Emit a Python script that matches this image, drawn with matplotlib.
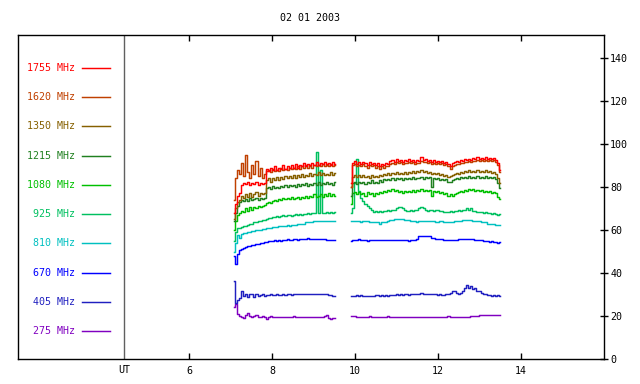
import numpy as np
import matplotlib
matplotlib.use("Agg")
import matplotlib.pyplot as plt

# ---------------------------
# DATA (flux vs UT hours, two observing segments)
# ---------------------------
title = "02 01 2003"
seg1_start, seg1_end = 7.07, 9.52
seg2_start, seg2_end = 9.90, 13.50

labels = ["1755 MHz", "1620 MHz", "1350 MHz", "1215 MHz", "1080 MHz",
          "925 MHz", "810 MHz", "670 MHz", "405 MHz", "275 MHz"]
colors = ["#ff0000", "#c04000", "#866000", "#208020", "#00c000",
          "#00c060", "#00c0c0", "#0000ff", "#2020c0", "#8000c0"]

f1755_a = [68, 72, 76, 77, 81, 82, 81.5, 82.5, 81, 82, 81.5, 82.5, 81, 82, 81.5, 82,
           88.5, 87.5, 89, 88, 89.5, 88, 89, 88.5, 90, 88.5, 89.5, 89, 90, 89, 90.5, 89,
           90, 89.5, 91, 89.5, 90.5, 90, 91, 90, 91.5, 90, 91, 90.5, 91.5, 90.5, 91, 90,
           91.5, 90.5]
f1755_b = [82, 91, 92, 90.5, 91.5, 90.5, 91.5, 91, 90, 91.5, 90.5, 91, 90, 91, 89.5, 90.5,
           90, 91, 90.5, 92, 92.5, 91.5, 93, 92, 92.5, 91.5, 92.5, 92, 93, 92, 92.5, 91.5,
           92.5, 92, 94, 92.5, 93, 92, 92.5, 91.5, 92.5, 91.5, 92, 91.5, 92, 91, 91.5, 90.5,
           89.5, 91, 91.5, 92, 91.5, 92.5, 92, 93, 92.5, 93, 92.5, 93.5, 93, 94, 93, 93.5,
           93, 94, 93, 93.5, 93, 93.5, 92.5, 91, 88]

f1620_a = [74, 84, 88, 86, 91, 85, 95, 87, 84, 90, 86, 92, 85, 89, 84, 86,
           87.5, 88, 87, 88.5, 87.5, 88, 87.5, 89, 88, 88.5, 88, 89, 88.5, 89, 88.5, 89.5,
           88.5, 89.5, 89, 90, 89, 89.5, 89, 90, 89.5, 90, 89.5, 90.5, 89.5, 90, 89.5, 90.5,
           89.5, 90]
f1620_b = [80, 90, 90.5, 89.5, 90, 89.5, 90.5, 89.5, 89, 90, 89.5, 90, 89, 89.5, 88.5, 89.5,
           89, 89.5, 89.5, 90.5, 91, 90.5, 91.5, 91, 91.5, 90.5, 91, 91, 91.5, 91, 91.5, 90.5,
           91, 91, 92, 91.5, 91.5, 91, 91.5, 90.5, 91, 90.5, 91, 90.5, 91, 90, 90.5, 89.5,
           88.5, 89.5, 90, 90.5, 90.5, 91, 91, 91.5, 91.5, 92, 91.5, 92, 92, 92.5, 92, 92.5,
           92, 92.5, 92, 92.5, 92, 92.5, 91.5, 90, 87]

f1350_a = [65, 70, 73, 74, 76, 75, 76.5, 75.5, 77, 75.5, 76.5, 77.5, 76, 77, 76.5, 77,
           83, 84, 82.5, 84, 83, 84.5, 83, 84.5, 83.5, 85, 84, 85, 84, 85.5, 84, 85.5,
           84.5, 86, 84.5, 85.5, 85, 86.5, 85, 86, 85.5, 87, 85.5, 86.5, 85.5, 86, 85.5, 87,
           85.5, 86.5]
f1350_b = [80, 84.5, 85.5, 84.5, 85.5, 84.5, 85.5, 84.5, 85, 84, 85.5, 84.5, 85, 84.5, 85.5, 85,
           86, 85.5, 86.5, 85.5, 86.5, 86, 87, 86, 86.5, 86, 87, 86, 87, 86.5, 87.5, 86.5,
           87.5, 87, 88, 87, 87.5, 86.5, 87, 86, 86.5, 86, 86.5, 85.5, 86, 85, 85.5, 84.5,
           85, 85.5, 86, 86.5, 86, 87, 86.5, 87.5, 87, 88, 87, 87.5, 87, 88, 87, 87.5,
           87, 88, 87, 87.5, 86.5, 87, 86, 84, 82]

f1215_a = [64, 68, 71, 73, 74, 73.5, 74.5, 73.5, 75, 74, 74.5, 75, 74, 75, 74.5, 75,
           79.5, 80, 79, 80.5, 79.5, 80, 79.5, 80.5, 80, 81, 80, 81, 80.5, 81, 80, 81.5,
           80.5, 81.5, 81, 82, 80.5, 81.5, 81, 82, 81, 82.5, 81, 82, 81.5, 82.5, 81.5, 82,
           81, 82.5]
f1215_b = [76, 82, 82.5, 81.5, 82.5, 82, 82.5, 81.5, 82.5, 82, 83, 82, 82.5, 82, 83, 82.5,
           83.5, 83, 83.5, 83, 84, 83, 84, 83.5, 84, 83, 84, 83.5, 84, 83.5, 84.5, 83.5,
           84, 84, 84.5, 83.5, 84.5, 84, 84.5, 80, 84, 83.5, 84, 83, 83.5, 83, 83.5, 82.5,
           82.5, 83, 83.5, 84, 83.5, 84.5, 84, 84.5, 84, 85, 84, 84.5, 84, 85, 84, 84.5,
           84, 85, 84, 84.5, 84, 84.5, 83.5, 82, 79.5]

f1080_a = [60, 64, 67, 68, 69, 68.5, 70, 69, 70.5, 69.5, 70.5, 70, 71, 70.5, 71, 71.5,
           72.5, 73, 72.5, 73.5, 74, 73.5, 74.5, 74, 75, 74.5, 75, 74.5, 75.5, 74.5, 75, 75.5,
           74.5, 75.5, 75, 76, 75, 76, 75.5, 76.5, 75.5, 76, 76.5, 75.5, 76.5, 76, 77, 76,
           76.5, 76]
f1080_b = [72, 77, 77.5, 76.5, 77.5, 76.5, 77, 76, 77.5, 76.5, 77, 76, 77, 76.5, 77.5, 77,
           78, 77.5, 78.5, 78, 79, 78, 78.5, 77.5, 78, 77, 78, 77.5, 78, 77.5, 78.5, 77.5,
           78.5, 78, 79, 78, 78.5, 78, 78.5, 76, 78, 77.5, 78, 77, 77.5, 76.5, 77, 76,
           76.5, 76, 76.5, 77, 77.5, 78, 77.5, 78.5, 78, 79, 78.5, 79, 78, 78.5, 78, 78.5,
           77.5, 78, 77.5, 78, 77, 77.5, 77, 75.5, 74.5]

f925_a = [55, 59, 61, 61, 61.5, 62, 62, 62.5, 63, 63, 63.5, 63.5, 64, 64, 64.5, 64.5,
          65, 65.5, 65.5, 66, 66, 66.5, 66, 66.5, 67, 66.5, 67, 67, 66.5, 67, 67.5, 67,
          67.5, 67, 67.5, 67.5, 68, 67.5, 68, 68, 96, 68, 88, 68, 68, 68.5, 68, 68.5,
          68, 68.5]
f925_b = [68, 70, 82, 93, 78, 75, 73.5, 72, 71, 70, 69.5, 68.5, 69, 68.5, 69, 68.5,
          69, 69, 69.5, 69, 69.5, 69.5, 70, 70.5, 70.5, 70, 69.5, 69, 69, 69.5, 69, 69.5,
          69.5, 70, 70.5, 70, 69.5, 69, 69.5, 69.5, 69, 69.5, 69.5, 69, 69, 68.5, 68.5, 68.5,
          69, 68.5, 69, 69, 69.5, 69, 69.5, 69.5, 70, 69.5, 70, 69, 69, 68.5, 68.5, 68.5,
          68, 68.5, 68, 68, 67.5, 68, 67.5, 67, 67.5]

f810_a = [50, 54, 57.5, 56.5, 58, 58.5, 58.5, 59, 59, 59.5, 59.5, 60, 60, 60, 60.5, 60.5,
          61, 61, 61, 61.5, 61.5, 61.5, 62, 62, 62, 62, 62.5, 62, 62.5, 62.5, 62.5, 63,
          63, 63, 63, 63.5, 63.5, 63.5, 63.5, 64, 64, 64, 64, 64, 64, 64, 64, 64,
          64, 64]
f810_b = [64, 64, 64, 64, 64, 63.5, 64, 64, 64, 63.5, 63.5, 63.5, 63.5, 63.5, 63, 63.5,
          63.5, 63.5, 64, 64.5, 64.5, 65, 65, 65, 65, 65, 64.5, 64.5, 64.5, 64, 64, 64,
          63.5, 64, 64, 64, 64, 64, 64, 64, 64, 63.5, 63.5, 64, 64, 63.5, 63.5, 63.5,
          63.5, 63.5, 64, 64, 64, 64, 64.5, 64.5, 64.5, 64.5, 64.5, 64, 64, 64, 64, 63.5,
          63.5, 63.5, 63, 63, 63, 63, 62.5, 62.5, 62.5]

f670_a = [48, 44, 49, 50.5, 51, 51.5, 52, 52.5, 52.5, 53, 53, 53.5, 53.5, 54, 54, 54.5,
          54.5, 55, 55, 55, 55.5, 55, 55.5, 55, 55.5, 55.5, 56, 55.5, 55.5, 56, 56, 55.5,
          56, 56, 56, 56, 56.5, 56, 56, 56, 56, 56, 56, 56, 56, 55.5, 55.5, 55.5,
          55.5, 55.5]
f670_b = [55, 55.5, 55.5, 55.5, 56, 55.5, 55.5, 55.5, 55, 55.5, 55.5, 55.5, 55.5, 55.5, 55.5, 55.5,
          55.5, 55.5, 55.5, 55.5, 55.5, 55.5, 55.5, 55.5, 55.5, 55.5, 55.5, 55.5, 55, 55.5, 55.5, 55.5,
          56, 57, 57, 57, 57, 57, 57, 56.5, 56.5, 56, 56, 56, 56, 55.5, 55.5, 55.5,
          55.5, 55.5, 55.5, 55.5, 56, 56, 56, 56, 56, 56, 56, 56, 55.5, 55.5, 55.5, 55.5,
          55, 55, 55, 54.5, 55, 54.5, 54.5, 54, 54.5]

f405_a = [36.5, 26, 27.5, 28.5, 31.5, 29.5, 30.5, 29, 30.5, 30.5, 29, 30.5, 29.5, 30, 30.5, 29.5,
          30, 30, 30.3, 30, 30, 30.3, 30, 30, 30.3, 30, 30.3, 30.3, 30, 30.3, 30.5, 30.3,
          30.5, 30.5, 30.3, 30.5, 30.5, 30.3, 30.5, 30.5, 30.3, 30.5, 30.5, 30.3, 30.5, 30.5, 30, 29.8,
          29.5, 29.5]
f405_b = [29.5, 29.5, 29.5, 29.8, 29.5, 29.8, 29.5, 29.5, 29.3, 29.5, 29.3, 29.5, 30, 29.8, 29.5, 29.8,
          29.5, 29.8, 29.5, 29.8, 30, 30, 30.3, 30, 30.3, 30, 30.3, 30.3, 30, 30.3, 30.5, 30.3,
          30.5, 30.5, 30.8, 30.5, 30.5, 30.3, 30.5, 30.3, 30.5, 30.3, 30, 30.3, 30, 30, 30.3, 30.5,
          31, 31.5, 31.8, 31, 30.5, 30.8, 31.5, 33, 34.5, 33, 34, 32.5, 33, 31.8, 31.5, 30.8,
          30.5, 30.5, 30, 29.8, 29.5, 29.8, 29.5, 29.8, 29.5]

f275_a = [24.5, 25.5, 21, 20, 19.5, 19.2, 20.5, 21.5, 20, 19.8, 20, 20.5, 19.8, 19.5, 20, 19.5,
          18.8, 19.5, 20, 19.5, 19.5, 19.5, 19.8, 19.8, 19.8, 19.8, 19.8, 19.8, 19.8, 20, 19.8, 19.8,
          19.8, 19.8, 19.8, 19.8, 19.8, 19.8, 19.8, 19.8, 19.8, 19.8, 19.8, 19.8, 20.3, 20.5, 19.2, 18.8,
          19, 19]
f275_b = [20.2, 20.2, 20, 19.8, 19.8, 19.8, 19.8, 19.8, 19.8, 20.2, 19.5, 19.8, 19.8, 19.8, 19.8, 19.8,
          19.8, 19.8, 20.2, 19.5, 19.8, 19.8, 19.8, 19.8, 19.8, 19.8, 19.8, 19.8, 19.8, 19.8, 19.8, 19.8,
          19.8, 19.8, 19.8, 19.8, 19.8, 19.8, 19.8, 19.8, 19.8, 19.8, 19.8, 19.8, 19.8, 19.8, 19.8, 20.2,
          19.8, 19.8, 19.8, 19.8, 19.8, 19.8, 19.8, 19.8, 19.8, 19.8, 20, 20, 20.2, 20.2, 20.4, 20.4,
          20.4, 20.5, 20.4, 20.4, 20.5, 20.4, 20.4, 20.5, 20.5]

series = [(f1755_a, f1755_b), (f1620_a, f1620_b), (f1350_a, f1350_b), (f1215_a, f1215_b),
          (f1080_a, f1080_b), (f925_a, f925_b), (f810_a, f810_b), (f670_a, f670_b),
          (f405_a, f405_b), (f275_a, f275_b)]

# ---------------------------
# PLOT
# ---------------------------
FONT = "DejaVu Sans Mono"
FS = 7.2
LW = 1.05

fig = plt.figure(figsize=(6.4, 3.84), dpi=100)
ax = fig.add_axes([18 / 640, 1 - 359.3 / 384, 586 / 640, 324.3 / 384])

# lowest frequency first so red ends up on top
for (sa, sb), col in reversed(list(zip(series, colors))):
    ta = np.linspace(seg1_start, seg1_end, len(sa))
    tb = np.linspace(seg2_start, seg2_end, len(sb))
    ax.plot(ta, sa, color=col, lw=LW, drawstyle="steps-mid")
    ax.plot(tb, sb, color=col, lw=LW, drawstyle="steps-mid")

ax.set_xlim(1.87, 16.0)
ax.set_ylim(0, 150.5)

ax.set_xticks([6, 8, 10, 12, 14])
ax.set_xticklabels(["6", "8", "10", "12", "14"], family=FONT, fontsize=FS)
ax.tick_params(axis="x", direction="in", length=4, width=1, top=True, bottom=True, pad=5)

ax.yaxis.tick_right()
ax.set_yticks(range(0, 141, 20))
ax.set_yticklabels([str(v) for v in range(0, 141, 20)], family=FONT, fontsize=FS)
ax.tick_params(axis="y", direction="inout", length=6, width=1, left=False, right=True, pad=1.5)

for sp in ax.spines.values():
    sp.set_linewidth(1.0)

# separator between legend area and data
ax.axvline(4.43, color="#606060", lw=1)
ax.text(4.43, -0.033, "UT", transform=ax.get_xaxis_transform(), ha="center", va="center",
        family=FONT, fontsize=FS)

# legend column on the left
for i, (lab, col) in enumerate(zip(labels, colors)):
    yy = 0.899 - 0.0902 * i
    ax.text(0.0973, yy, lab, transform=ax.transAxes, ha="right", va="center",
            color=col, family=FONT, fontsize=FS)
    ax.plot([0.109, 0.1575], [yy, yy], transform=ax.transAxes, color=col, lw=LW)

fig.text(310.5 / 640, 1 - 18 / 384, title, ha="center", va="center", family=FONT, fontsize=FS)

fig.savefig("out.png", dpi=100)
